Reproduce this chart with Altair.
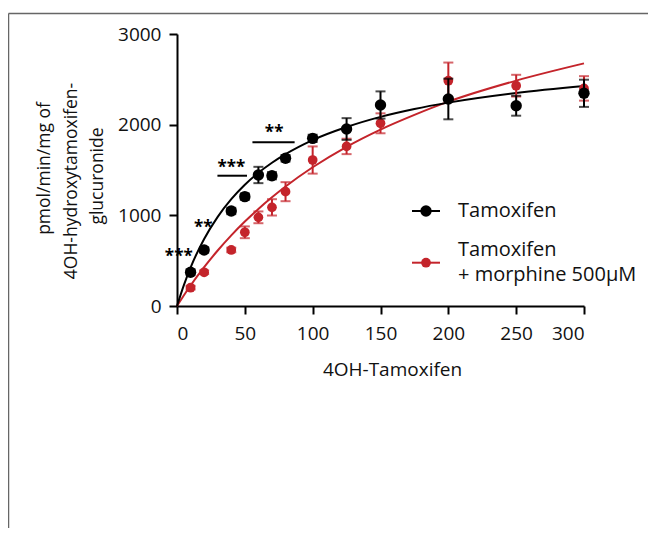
import altair as alt
import pandas as pd

# ---- data ----
conc = [10, 20, 40, 50, 60, 70, 80, 100, 125, 150, 200, 250, 300]
tam_mean = [372, 618, 1048, 1206, 1445, 1437, 1629, 1849, 1952, 2217, 2283, 2209, 2346]
tam_err = [30, 30, 35, 35, 90, 40, 35, 40, 120, 150, 224, 110, 150]
morph_mean = [202, 372, 618, 813, 978, 1088, 1261, 1610, 1760, 2015, 2485, 2430, 2400]
morph_err = [20, 20, 25, 65, 65, 90, 105, 150, 85, 110, 200, 120, 135]

# fitted curves, read at these x positions
curve_x = [0, 5, 10, 20, 30, 40, 50, 60, 70, 80, 100, 125, 150, 175, 200, 250, 300]
tam_curve = [0, 228, 424, 739, 983, 1178, 1337, 1469, 1580, 1675, 1830, 1974, 2086, 2173, 2243, 2349, 2426]
morph_curve = [0, 116, 226, 428, 612, 779, 931, 1071, 1199, 1318, 1530, 1756, 1946, 2108, 2254, 2486, 2676]

series = ["Tamoxifen", "Tamoxifen\n+ morphine 500µM"]
colors = ["#000000", "#c4242b"]

y_title_lines = ["pmol/min/mg of", "4OH-hydroxytamoxifen-", "glucuronide"]

# significance annotations
star_text = ["***", "**", "***", "**"]
star_x = [1.3, 19.3, 40, 71.6]
star_y = [480, 800, 1472, 1858]
bracket_x1 = [29.8, 55.6]
bracket_x2 = [51.6, 86.7]
bracket_y = [1437, 1805]

FONT = "Open Sans"

pts_t = pd.DataFrame({"x": conc, "y": tam_mean, "e": tam_err})
pts_m = pd.DataFrame({"x": conc, "y": morph_mean, "e": morph_err})
cur_t = pd.DataFrame({"x": curve_x, "y": tam_curve})
cur_m = pd.DataFrame({"x": curve_x, "y": morph_curve})
stars = pd.DataFrame({"x": star_x, "y": star_y, "t": star_text})
brackets = pd.DataFrame({"x": bracket_x1, "x2": bracket_x2, "y": bracket_y})
one = pd.DataFrame({"a": [0]})

xs = alt.Scale(domain=[0, 300], nice=False)
ys = alt.Scale(domain=[0, 3000], nice=False)

x_axis = alt.Axis(values=[0, 50, 100, 150, 200, 250, 300], format="d", title="4OH-Tamoxifen",
                  titleX=215, titleY=69, titleAlign="center", titleBaseline="alphabetic",
                  titleFontSize=19, labelPadding=10)
y_axis = alt.Axis(values=[0, 1000, 2000, 3000], format="d", title=None, labelPadding=8)

X = alt.X("x:Q", scale=xs, axis=x_axis)
Y = alt.Y("y:Q", scale=ys, axis=y_axis)


def curve(df, color):
    return alt.Chart(df).mark_line(color=color, strokeWidth=2, interpolate="monotone").encode(x=X, y=Y)


def errbars(df, color):
    base = alt.Chart(df).transform_calculate(lo="datum.y - datum.e", hi="datum.y + datum.e")
    rule = base.mark_rule(color=color, strokeWidth=2).encode(
        x=alt.X("x:Q", scale=xs), y=alt.Y("lo:Q", scale=ys), y2="hi:Q")
    cap_lo = base.mark_tick(color=color, orient="horizontal", size=10, thickness=2).encode(
        x=alt.X("x:Q", scale=xs), y=alt.Y("lo:Q", scale=ys))
    cap_hi = base.mark_tick(color=color, orient="horizontal", size=10, thickness=2).encode(
        x=alt.X("x:Q", scale=xs), y=alt.Y("hi:Q", scale=ys))
    return rule + cap_lo + cap_hi


def points(df, color, size):
    return alt.Chart(df).mark_point(filled=True, color=color, size=size, opacity=1).encode(x=X, y=Y)


star_layer = alt.Chart(stars).mark_text(font=FONT, fontSize=17, fontWeight="bold",
                                        baseline="alphabetic", align="center",
                                        color="black").encode(
    x=alt.X("x:Q", scale=xs), y=alt.Y("y:Q", scale=ys), text="t:N")
bracket_layer = alt.Chart(brackets).mark_rule(color="black", strokeWidth=2).encode(
    x=alt.X("x:Q", scale=xs), x2="x2:Q", y=alt.Y("y:Q", scale=ys))

# y-axis title, three centred lines
title_layers = []
for line, tx, ty in zip(y_title_lines, [-132, -105, -79], [134.5, 147, 142]):
    title_layers.append(alt.Chart(one).mark_text(font=FONT, fontSize=17.5, angle=270,
                                                  align="center", baseline="middle",
                                                  color="#111").encode(
        x=alt.value(tx), y=alt.value(ty), text=alt.value(line)))

# legend (drawn manually)
legend_layers = []
leg_y = [177, 228.7]
leg_text_y = [177, 215.5]
leg_sizes = [130, 95]
for name, col, ly, ty, sz in zip(series, colors, leg_y, leg_text_y, leg_sizes):
    legend_layers.append(alt.Chart(one).mark_rule(color=col, strokeWidth=2).encode(
        x=alt.value(235), x2=alt.value(263), y=alt.value(ly)))
    legend_layers.append(alt.Chart(one).mark_point(filled=True, color=col, size=sz, opacity=1).encode(
        x=alt.value(249), y=alt.value(ly)))
    legend_layers.append(alt.Chart(one).mark_text(font=FONT, fontSize=20, align="left",
                                                   baseline="middle", lineBreak="\n",
                                                   lineHeight=25, color="#111").encode(
        x=alt.value(281), y=alt.value(ty), text=alt.value(name)))

# frame around the figure (top and left edges)
frame_top = alt.Chart(one).mark_rule(color="#666", strokeWidth=1.5).encode(
    x=alt.value(-168.5), x2=alt.value(480), y=alt.value(-20.5))
frame_left = alt.Chart(one).mark_rule(color="#666", strokeWidth=1.5).encode(
    x=alt.value(-168.5), y=alt.value(-20.5), y2=alt.value(500))

chart = alt.layer(
    frame_top, frame_left,
    curve(cur_m, colors[1]), curve(cur_t, colors[0]),
    errbars(pts_m, colors[1]), points(pts_m, colors[1], 95),
    errbars(pts_t, colors[0]), points(pts_t, colors[0], 130),
    star_layer, bracket_layer,
    *title_layers,
    *legend_layers,
).properties(
    width=407, height=272,
    background="white",
    autosize=alt.AutoSizeParams(type="none"),
    padding={"left": 169, "top": 26, "right": 64, "bottom": 222},
).configure_view(stroke=None).configure_axis(
    domainColor="black", domainWidth=2, tickColor="black", tickWidth=2, tickSize=8,
    labelFont=FONT, labelFontSize=19, labelColor="#111", titleFont=FONT,
    titleFontWeight="normal", titleColor="#111", grid=False,
)

chart.save("out.html", embed_options={"renderer": "svg", "actions": False})
